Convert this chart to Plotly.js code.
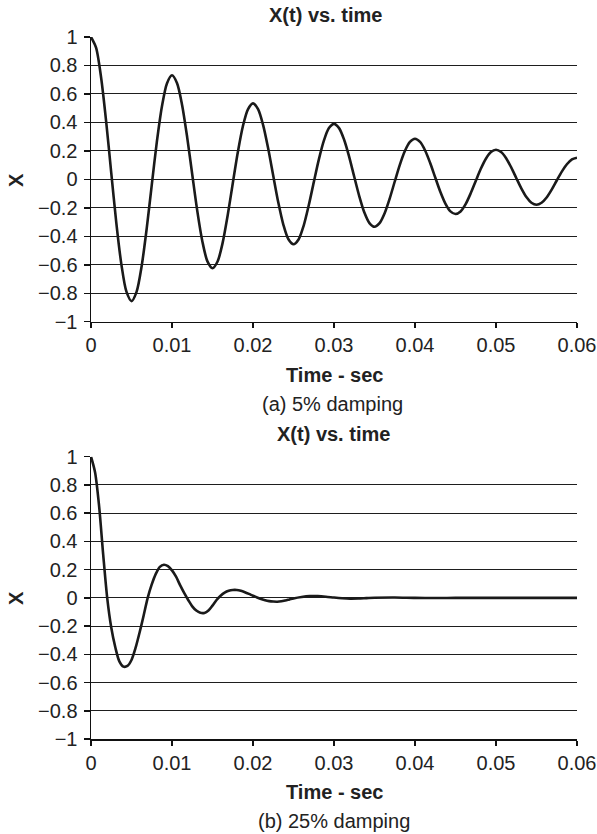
<!DOCTYPE html>
<html>
<head>
<meta charset="utf-8">
<script src="https://cdn.plot.ly/plotly-3.0.1.min.js"></script>
<style>html,body{margin:0;padding:0;background:#fff;}#chart{width:597px;height:834px;}</style>
</head>
<body>
<div id="chart"></div>
<script>
// (a) 5% damping — time (s) every 0.000625 s and X
const timeA = [0,0.000625,0.00125,0.001875,0.0025,0.003125,0.00375,0.004375,0.005,0.005625,0.00625,0.006875,0.0075,0.008125,0.00875,0.009375,
  0.01,0.010625,0.01125,0.011875,0.0125,0.013125,0.01375,0.014375,0.015,0.015625,0.01625,0.016875,0.0175,0.018125,0.01875,0.019375,
  0.02,0.020625,0.02125,0.021875,0.0225,0.023125,0.02375,0.024375,0.025,0.025625,0.02625,0.026875,0.0275,0.028125,0.02875,0.029375,
  0.03,0.030625,0.03125,0.031875,0.0325,0.033125,0.03375,0.034375,0.035,0.035625,0.03625,0.036875,0.0375,0.038125,0.03875,0.039375,
  0.04,0.040625,0.04125,0.041875,0.0425,0.043125,0.04375,0.044375,0.045,0.045625,0.04625,0.046875,0.0475,0.048125,0.04875,0.049375,
  0.05,0.050625,0.05125,0.051875,0.0525,0.053125,0.05375,0.054375,0.055,0.055625,0.05625,0.056875,0.0575,0.058125,0.05875,0.059375,0.06];
const xA = [1.000,0.925,0.714,0.404,0.046,-0.305,-0.597,-0.789,-0.855,-0.790,-0.610,-0.346,-0.040,0.261,0.510,0.674,
  0.731,0.675,0.521,0.295,0.034,-0.223,-0.436,-0.576,-0.624,-0.577,-0.446,-0.252,-0.029,0.190,0.373,0.492,
  0.534,0.493,0.381,0.216,0.025,-0.163,-0.319,-0.421,-0.456,-0.422,-0.326,-0.184,-0.021,0.139,0.272,0.360,
  0.390,0.360,0.278,0.158,0.018,-0.119,-0.233,-0.307,-0.333,-0.308,-0.238,-0.135,-0.015,0.102,0.199,0.263,
  0.285,0.263,0.203,0.115,0.013,-0.087,-0.170,-0.225,-0.243,-0.225,-0.174,-0.098,-0.011,0.074,0.145,0.192,
  0.208,0.192,0.149,0.084,0.010,-0.063,-0.124,-0.164,-0.178,-0.164,-0.127,-0.072,-0.008,0.054,0.106,0.140,0.152];

// (b) 25% damping
const timeB = [0,0.0005,0.001,0.0015,0.002,0.0025,0.003,0.0035,0.004,0.0045,0.005,0.0055,0.006,0.0065,0.007,0.0075,0.008,0.0085,0.009,0.0095,0.01,0.0105,0.011,0.0115,0.012,0.0125,0.013,0.0135,0.014,0.0145,0.015,0.0155,0.016,0.0165,0.017,0.0175,0.018,0.0185,0.019,0.0195,0.02,0.0205,0.021,0.0215,0.022,0.0225,0.023,0.0235,0.024,0.0245,0.025,0.026,0.027,0.028,0.029,0.03,0.031,0.032,0.033,0.034,0.035,0.0375,0.04,0.0425,0.045,0.05,0.055,0.06];
const xB = [1.00,0.89,0.65,0.31,0.00,-0.21,-0.35,-0.45,-0.487,-0.482,-0.44,-0.355,-0.245,-0.125,0.00,0.095,0.17,0.22,0.235,0.225,0.195,0.15,0.09,0.035,-0.015,-0.06,-0.09,-0.106,-0.107,-0.09,-0.055,-0.015,0.015,0.037,0.05,0.056,0.056,0.05,0.04,0.028,0.015,0.003,-0.008,-0.017,-0.023,-0.026,-0.027,-0.024,-0.018,-0.011,-0.004,0.006,0.012,0.012,0.008,0.002,-0.003,-0.006,-0.005,-0.002,0.001,0.003,0.0,-0.001,0,0,0,0];

const chartTitle = 'X(t) vs. time';
const xTitle = 'Time - sec';
const yTitle = 'X';
const captions = ['(a) 5% damping', '(b) 25% damping'];
const xTicks = [0,0.01,0.02,0.03,0.04,0.05,0.06];
const yTicks = [1,0.8,0.6,0.4,0.2,0,-0.2,-0.4,-0.6,-0.8,-1];

const FONT = 'Liberation Sans, Arial, sans-serif';
const FS = 20;
const line = {color:'#1a1a1a', width:2.6, shape:'spline', smoothing:0.8};

const traces = [
  {x:timeA, y:xA, mode:'lines', line:line, xaxis:'x', yaxis:'y', hoverinfo:'skip'},
  {x:timeB, y:xB, mode:'lines', line:line, xaxis:'x2', yaxis:'y2', hoverinfo:'skip'}
];

function xa(anchor){
  return {anchor:anchor, range:[0,0.06], tickvals:xTicks, ticktext:xTicks.map(v=>String(v)),
    showgrid:false, zeroline:false, showline:true, linecolor:'#111', linewidth:1.5,
    ticks:'outside', ticklen:5, tickwidth:1.5, tickcolor:'#111', ticklabelstandoff:0,
    tickfont:{family:FONT, size:FS, color:'#222'}, fixedrange:true};
}
function ya(anchor, domain){
  return {anchor:anchor, domain:domain, range:[-1,1], tickvals:yTicks,
    ticktext:yTicks.map(v=> v<0 ? '\u2212'+String(-v) : String(v)),
    showgrid:true, gridcolor:'#1e1e1e', gridwidth:1, zeroline:false,
    showline:true, linecolor:'#111', linewidth:1.5,
    ticks:'outside', ticklen:6, tickwidth:1.5, tickcolor:'#111', ticklabelstandoff:2,
    tickfont:{family:FONT, size:FS, color:'#222'}, fixedrange:true};
}

function ann(text, x, y, bold, extra){
  return Object.assign({text: bold ? '<b>'+text+'</b>' : text, xref:'paper', yref:'paper', x:x, y:y,
    xanchor:'center', yanchor:'middle', showarrow:false,
    font:{family:FONT, size:FS, color:'#222'}}, extra||{});
}

const layout = {
  width:597, height:834,
  margin:{l:91, r:20, t:37, b:95},
  paper_bgcolor:'#fff', plot_bgcolor:'#fff',
  showlegend:false,
  xaxis: xa('y'), yaxis: ya('x',[0.5944,1]),
  xaxis2: xa('y2'), yaxis2: ya('x2',[0,0.4021]),
  annotations:[
    ann(chartTitle, 0.4835, 1.0313, true),
    ann(xTitle, 0.5, 0.5185, true),
    ann(captions[0], 0.497, 0.4772, false),
    ann(chartTitle, 0.498, 0.4338, true),
    ann(xTitle, 0.5, -0.0755, true),
    ann(captions[1], 0.5, -0.1175, false),
    ann(yTitle, -0.1543, 0.7963, true, {textangle:-90}),
    ann(yTitle, -0.1543, 0.2009, true, {textangle:-90})
  ]
};

Plotly.newPlot('chart', traces, layout, {staticPlot:true, displayModeBar:false});
</script>
</body>
</html>
